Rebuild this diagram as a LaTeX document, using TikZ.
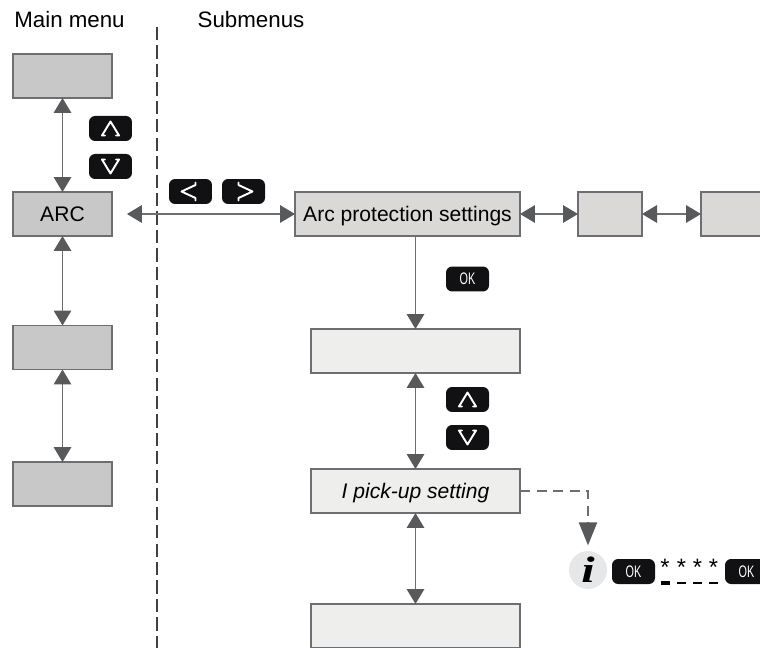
\documentclass[tikz,border=0pt]{standalone}
\usepackage{fontspec}
\setmainfont{Liberation Sans}
\newfontfamily\infofont{Liberation Serif}
\usetikzlibrary{arrows.meta}
\definecolor{edgegrey}{HTML}{6D6E71}
\definecolor{tipgrey}{HTML}{58595B}
\definecolor{mainfill}{HTML}{C8C8C8}
\definecolor{subfill}{HTML}{DAD9D7}
\definecolor{lowfill}{HTML}{EEEFED}
\definecolor{infofill}{HTML}{E6E7E8}
\definecolor{keyfill}{HTML}{111114}
\tikzset{
    menubox/.style={draw=edgegrey, line width=1pt, inner sep=0pt, outer sep=0pt, minimum height=0.88cm, text height=0.95em, text depth=0.15em, font=\fontsize{12}{14}\selectfont},
    mainbox/.style={menubox, fill=mainfill, minimum width=1.98cm},
    subbox/.style={menubox, fill=subfill, minimum width=1.28cm},
    lowbox/.style={menubox, fill=lowfill, minimum width=4.18cm},
    keybtn/.style={fill=keyfill, rounded corners=3.5pt, minimum width=0.86cm, minimum height=0.5cm, inner sep=0pt, text=white, font=\fontsize{9.5}{11}\selectfont},
    chevron/.style={draw=white, line width=1.1pt, line cap=round, line join=round},
    twoway/.style={draw=edgegrey, line width=0.95pt, {Triangle[width=0.35cm, length=0.3cm, color=tipgrey]}-{Triangle[width=0.35cm, length=0.3cm, color=tipgrey]}},
    hint/.style={draw=edgegrey, line width=1.3pt, dash pattern=on 5.7pt off 3.7pt, -{Triangle[width=0.36cm, length=0.46cm, color=tipgrey]}},
    divider/.style={draw=black!75, line width=0.9pt, dash pattern=on 7.5pt off 3pt},
    title/.style={font=\fontsize{12.7}{15}\selectfont},
    star/.style={inner sep=0pt, font=\fontsize{13.5}{14}\selectfont},
    dash mark/.style={draw=black, line width=1.2pt}
}

\begin{document}
\begin{tikzpicture}[x=0.02cm, y=-0.02cm]
    \path [use as bounding box, clip] (0,0) rectangle (760,648);

    % First, locate each of the nodes and name them
        \node [title] (mainlabel) at (69.5,20) {Main menu};
        \node [title] (sublabel) at (251,20) {Submenus};
        \coordinate (divtop) at (157,27);
        \coordinate (divbot) at (157,648);

        \node [mainbox] (maina) at (62.5,76) {};
        \node [mainbox] (arc) at (62.5,214) {ARC};
        \node [mainbox] (mainb) at (62.5,347.5) {};
        \node [mainbox] (mainc) at (62.5,484) {};

        \node [menubox, fill=subfill, minimum width=4.5cm] (arcset) at (407.5,214) {Arc protection settings};
        \node [subbox] (subb) at (610,214) {};
        \node [subbox] (subc) at (733,214) {};

        \node [lowbox] (lowa) at (415.5,351) {};
        \node [lowbox] (pickup) at (415.5,491) {\textit{I pick-up setting}};
        \node [lowbox] (lowb) at (415.5,626) {};

        \node [keybtn] (upa) at (110.5,128.5) {};
        \node [keybtn] (downa) at (110.5,166.5) {};
        \node [keybtn] (left) at (190.5,191.5) {};
        \node [keybtn] (right) at (243.5,191.5) {};
        \node [keybtn] (oka) at (467.5,279) {\scalebox{0.65}[1]{OK}};
        \node [keybtn] (upb) at (467.5,399.5) {};
        \node [keybtn] (downb) at (467.5,437.5) {};

        \node [circle, fill=infofill, minimum size=0.76cm, inner sep=0pt] (info) at (588,570) {\infofont\fontsize{21}{21}\selectfont\bfseries\itshape\scalebox{1.3}[1]{i}};
        \node [keybtn] (okb) at (633.5,571.5) {\scalebox{0.65}[1]{OK}};
        \node [keybtn] (okc) at (746.5,571.5) {\scalebox{0.65}[1]{OK}};
        \node [star] (stara) at (665,567) {*};
        \node [star] (starb) at (681.5,567) {*};
        \node [star] (starc) at (697.5,567) {*};
        \node [star] (stard) at (713.5,567) {*};

    % Now draw the lines:
        \draw [divider] (divtop) -- (divbot);
        \draw [twoway] (maina) -- (arc);
        \draw [twoway] (arc) -- (mainb);
        \draw [twoway] (mainb) -- (mainc);
        \draw [twoway, shorten <=8.5pt] (arc) -- (arcset);
        \draw [twoway] (arcset) -- (subb);
        \draw [twoway] (subb) -- (subc);
        \draw [draw=edgegrey, line width=0.95pt, -{Triangle[width=0.35cm, length=0.3cm, color=tipgrey]}] (arcset.south -| lowa) -- (lowa);
        \draw [twoway] (lowa) -- (pickup);
        \draw [twoway] (pickup) -- (lowb);
        \draw [hint, shorten >=3pt] (pickup.east) -| (info.north);

    % Marks on the keys
        \draw [chevron, shift={(upa.center)}] (-5.5,7) -- (-8.5,7) -- (0,-7) -- (8.5,7) -- (5.5,7);
        \draw [chevron, shift={(upb.center)}] (-5.5,7) -- (-8.5,7) -- (0,-7) -- (8.5,7) -- (5.5,7);
        \draw [chevron, shift={(downa.center)}] (-5.5,-7) -- (-8.5,-7) -- (0,7) -- (8.5,-7) -- (5.5,-7);
        \draw [chevron, shift={(downb.center)}] (-5.5,-7) -- (-8.5,-7) -- (0,7) -- (8.5,-7) -- (5.5,-7);
        \draw [chevron, shift={(left.center)}] (5,-9) -- (5,-6.5) -- (-9,0) -- (5,6.5) -- (5,9);
        \draw [chevron, shift={(right.center)}] (-5,-9) -- (-5,-6.5) -- (9,0) -- (-5,6.5) -- (-5,9);

    % Dashes under the stars
        \draw [dash mark, line width=1.8pt] (stara.center) ++(-4.5,16) -- ++(9,0);
        \draw [dash mark] (starb.center) ++(-4.5,16) -- ++(9,0);
        \draw [dash mark] (starc.center) ++(-4.5,16) -- ++(9,0);
        \draw [dash mark] (stard.center) ++(-4.5,16) -- ++(9,0);
    \end{tikzpicture}
\end{document}
